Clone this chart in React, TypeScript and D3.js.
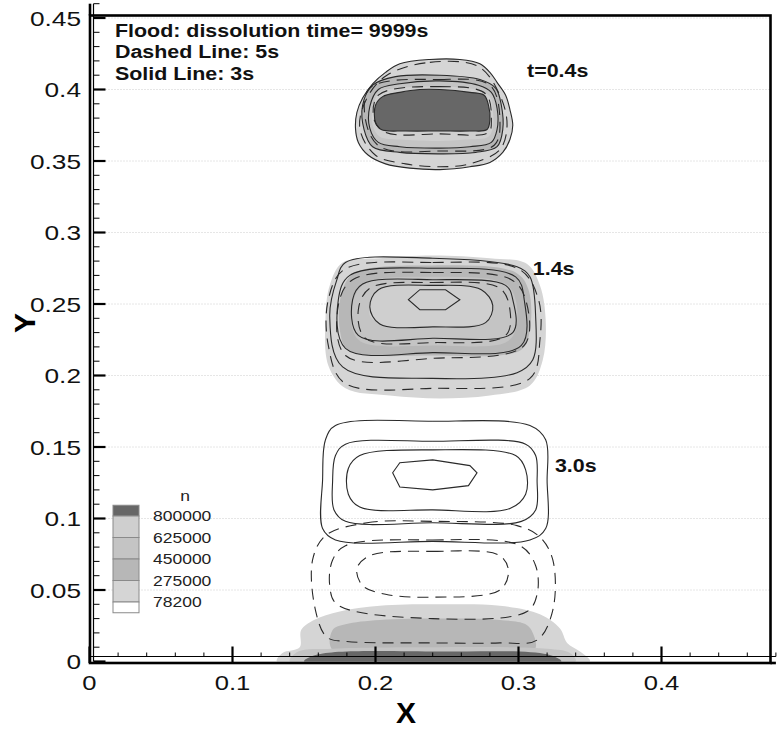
import React, { useEffect, useRef } from 'react';
import * as d3 from 'd3';

type Pt = [number, number];

// contour levels of n and the grey used for each band (below first level -> white)
const levelValues = [78200, 275000, 450000, 625000, 800000];
const levelColors = ['#ffffff', '#d5d5d5', '#b7b7b7', '#c4c4c4', '#cfcfcf', '#676767'];

const xTicks = [0, 0.1, 0.2, 0.3, 0.4];
const yTicks = [0, 0.05, 0.1, 0.15, 0.2, 0.25, 0.3, 0.35, 0.4, 0.45];
const noteLines = ['Flood: dissolution time= 9999s', 'Dashed Line: 5s', 'Solid Line: 3s'];
const timeLabels = ['t=0.4s', '1.4s', '3.0s'];
const timeLabelX = [0.306, 0.310, 0.3255];
const timeLabelY = [0.4087, 0.270, 0.1325];

// ---- flood (filled) contours, t = 0.4s
const t04Fill1: Pt[] = [[0.207, 0.412], [0.217, 0.418], [0.238, 0.421], [0.259, 0.421], [0.273, 0.418], [0.280, 0.412], [0.285, 0.405], [0.291, 0.396], [0.294, 0.386], [0.296, 0.375], [0.294, 0.365], [0.289, 0.356], [0.280, 0.349], [0.266, 0.346], [0.245, 0.344], [0.224, 0.345], [0.207, 0.348], [0.195, 0.354], [0.188, 0.363], [0.186, 0.373], [0.187, 0.384], [0.191, 0.394], [0.198, 0.404]];
const t04Fill2: Pt[] = [[0.198, 0.403], [0.214, 0.409], [0.245, 0.410], [0.273, 0.407], [0.284, 0.401], [0.288, 0.389], [0.289, 0.372], [0.285, 0.360], [0.270, 0.356], [0.245, 0.355], [0.217, 0.356], [0.198, 0.360], [0.192, 0.372], [0.191, 0.389]];
const t04Fill3: Pt[] = [[0.202, 0.400], [0.217, 0.404], [0.245, 0.406], [0.272, 0.403], [0.281, 0.398], [0.285, 0.387], [0.285, 0.372], [0.281, 0.363], [0.266, 0.360], [0.245, 0.359], [0.217, 0.360], [0.202, 0.363], [0.196, 0.373], [0.196, 0.388]];
const t04Fill4: Pt[] = [[0.203, 0.398], [0.217, 0.401], [0.245, 0.402], [0.270, 0.400], [0.280, 0.395], [0.282, 0.386], [0.282, 0.373], [0.279, 0.367], [0.263, 0.365], [0.245, 0.364], [0.217, 0.365], [0.203, 0.367], [0.198, 0.375], [0.198, 0.387]];
const t04Fill5: Pt[] = [[0.205, 0.395], [0.217, 0.398], [0.231, 0.400], [0.245, 0.400], [0.266, 0.398], [0.276, 0.396], [0.279, 0.389], [0.280, 0.379], [0.278, 0.372], [0.266, 0.371], [0.245, 0.371], [0.221, 0.371], [0.204, 0.372], [0.200, 0.377], [0.200, 0.389]];

// ---- flood contours, t = 1.4s
const t14Fill1: Pt[] = [[0.177, 0.279], [0.203, 0.282], [0.240, 0.284], [0.280, 0.282], [0.306, 0.278], [0.315, 0.263], [0.319, 0.239], [0.317, 0.211], [0.308, 0.193], [0.280, 0.186], [0.245, 0.184], [0.210, 0.186], [0.179, 0.191], [0.167, 0.207], [0.165, 0.239], [0.168, 0.263]];
const t14Fill2: Pt[] = [[0.186, 0.272], [0.240, 0.277], [0.298, 0.272], [0.307, 0.260], [0.308, 0.232], [0.302, 0.218], [0.240, 0.214], [0.181, 0.218], [0.175, 0.232], [0.177, 0.260]];
const t14Fill3: Pt[] = [[0.194, 0.265], [0.240, 0.269], [0.291, 0.264], [0.298, 0.253], [0.298, 0.232], [0.291, 0.223], [0.240, 0.221], [0.191, 0.223], [0.184, 0.232], [0.185, 0.254]];
const t14Fill4: Pt[] = [[0.203, 0.260], [0.240, 0.263], [0.274, 0.260], [0.282, 0.249], [0.280, 0.239], [0.266, 0.235], [0.240, 0.233], [0.207, 0.235], [0.196, 0.242], [0.198, 0.254]];

// ---- flood contours near the floor
const floorFill1: Pt[] = [[0.131, 0.000], [0.135, 0.006], [0.147, 0.010], [0.148, 0.022], [0.157, 0.029], [0.175, 0.035], [0.203, 0.039], [0.247, 0.040], [0.287, 0.039], [0.315, 0.033], [0.329, 0.023], [0.334, 0.013], [0.343, 0.007], [0.350, 0.000]];
const floorFill2: Pt[] = [[0.170, 0.008], [0.170, 0.022], [0.179, 0.026], [0.203, 0.029], [0.247, 0.030], [0.287, 0.029], [0.305, 0.026], [0.310, 0.020], [0.311, 0.008]];
const floorFill3: Pt[] = [[0.140, 0.000], [0.146, 0.007], [0.170, 0.009], [0.245, 0.010], [0.320, 0.009], [0.336, 0.006], [0.340, 0.000]];
const floorFill5: Pt[] = [[0.150, 0.000], [0.160, 0.005], [0.245, 0.007], [0.320, 0.005], [0.330, 0.000]];

// ---- solid lines (3s)
const t14Solid1: Pt[] = [[0.179, 0.279], [0.240, 0.282], [0.299, 0.276], [0.308, 0.269], [0.312, 0.241], [0.310, 0.211], [0.299, 0.202], [0.240, 0.198], [0.177, 0.206], [0.168, 0.241], [0.173, 0.267]];
const t14Solid2: Pt[] = [[0.182, 0.270], [0.240, 0.275], [0.298, 0.269], [0.304, 0.253], [0.302, 0.221], [0.240, 0.216], [0.179, 0.219], [0.174, 0.253]];
const t14Solid3: Pt[] = [[0.191, 0.264], [0.240, 0.267], [0.291, 0.263], [0.296, 0.253], [0.296, 0.230], [0.240, 0.226], [0.188, 0.228], [0.184, 0.253]];
const t14Solid4: Pt[] = [[0.202, 0.260], [0.240, 0.263], [0.274, 0.260], [0.282, 0.249], [0.277, 0.237], [0.240, 0.234], [0.203, 0.236], [0.196, 0.248]];
const t14Solid5: Pt[] = [[0.223, 0.253], [0.231, 0.260], [0.249, 0.260], [0.259, 0.253], [0.249, 0.246], [0.231, 0.246]];
const t30Solid1: Pt[] = [[0.172, 0.165], [0.240, 0.168], [0.308, 0.165], [0.319, 0.155], [0.320, 0.127], [0.319, 0.093], [0.308, 0.085], [0.240, 0.084], [0.172, 0.085], [0.163, 0.093], [0.163, 0.127], [0.165, 0.155]];
const t30Solid2: Pt[] = [[0.179, 0.152], [0.240, 0.154], [0.305, 0.152], [0.312, 0.144], [0.313, 0.126], [0.312, 0.106], [0.302, 0.098], [0.240, 0.097], [0.179, 0.098], [0.171, 0.106], [0.170, 0.126], [0.172, 0.144]];
const t30Solid3: Pt[] = [[0.189, 0.144], [0.240, 0.148], [0.298, 0.144], [0.305, 0.134], [0.305, 0.117], [0.294, 0.107], [0.240, 0.106], [0.189, 0.108], [0.181, 0.117], [0.181, 0.135]];
const t30Solid4: Pt[] = [[0.212, 0.132], [0.217, 0.139], [0.240, 0.141], [0.266, 0.137], [0.271, 0.132], [0.265, 0.123], [0.240, 0.120], [0.217, 0.122]];

// ---- dashed lines (5s)
const t04Dash1: Pt[] = [[0.208, 0.410], [0.238, 0.419], [0.272, 0.416], [0.287, 0.396], [0.292, 0.375], [0.287, 0.358], [0.266, 0.348], [0.245, 0.346], [0.221, 0.348], [0.200, 0.354], [0.189, 0.373], [0.194, 0.394]];
const t04Dash2: Pt[] = [[0.196, 0.401], [0.245, 0.407], [0.280, 0.403], [0.287, 0.379], [0.283, 0.361], [0.245, 0.357], [0.203, 0.360], [0.193, 0.379]];
const t04Dash3: Pt[] = [[0.202, 0.396], [0.245, 0.402], [0.277, 0.397], [0.281, 0.379], [0.279, 0.370], [0.245, 0.369], [0.207, 0.370], [0.199, 0.379]];
const t14Dash1: Pt[] = [[0.178, 0.274], [0.240, 0.279], [0.301, 0.274], [0.314, 0.253], [0.315, 0.225], [0.308, 0.198], [0.240, 0.191], [0.178, 0.195], [0.167, 0.221], [0.167, 0.253]];
const t14Dash2: Pt[] = [[0.184, 0.267], [0.240, 0.272], [0.295, 0.267], [0.305, 0.253], [0.304, 0.221], [0.240, 0.212], [0.179, 0.214], [0.174, 0.249]];
const t14Dash3: Pt[] = [[0.196, 0.261], [0.240, 0.265], [0.287, 0.261], [0.294, 0.246], [0.291, 0.228], [0.240, 0.223], [0.193, 0.226], [0.188, 0.246]];
const t30Dash1: Pt[] = [[0.165, 0.088], [0.194, 0.097], [0.240, 0.098], [0.299, 0.095], [0.315, 0.087], [0.324, 0.071], [0.324, 0.036], [0.313, 0.015], [0.287, 0.013], [0.240, 0.013], [0.180, 0.014], [0.166, 0.017], [0.158, 0.036], [0.156, 0.071]];
const t30Dash2: Pt[] = [[0.179, 0.081], [0.240, 0.085], [0.301, 0.081], [0.312, 0.067], [0.313, 0.047], [0.306, 0.035], [0.240, 0.030], [0.173, 0.040], [0.168, 0.053], [0.170, 0.071]];
const t30Dash3: Pt[] = [[0.196, 0.074], [0.240, 0.077], [0.287, 0.074], [0.293, 0.063], [0.287, 0.050], [0.240, 0.045], [0.207, 0.047], [0.191, 0.053], [0.187, 0.065]];

const fills: { level: number; pts: Pt[] }[] = [
  { level: 1, pts: t04Fill1 }, { level: 2, pts: t04Fill2 }, { level: 3, pts: t04Fill3 }, { level: 4, pts: t04Fill4 }, { level: 5, pts: t04Fill5 },
  { level: 1, pts: t14Fill1 }, { level: 2, pts: t14Fill2 }, { level: 3, pts: t14Fill3 }, { level: 4, pts: t14Fill4 },
  { level: 1, pts: floorFill1 }, { level: 2, pts: floorFill2 }, { level: 3, pts: floorFill3 }, { level: 5, pts: floorFill5 },
];
const solidLines: Pt[][] = [t04Fill1, t04Fill2, t04Fill3, t04Fill5, t14Solid1, t14Solid2, t14Solid3, t14Solid4, t30Solid1, t30Solid2, t30Solid3];
const solidPolys: Pt[][] = [t14Solid5, t30Solid4];
const dashedLines: Pt[][] = [t04Dash1, t04Dash2, t04Dash3, t14Dash1, t14Dash2, t14Dash3, t30Dash1, t30Dash2, t30Dash3];

const FONT = '"Liberation Sans", Arial, Helvetica, sans-serif';

const App = () => {
  const ref = useRef<SVGSVGElement>(null);

  useEffect(() => {
    document.body.style.margin = '0';
    const svg = d3.select(ref.current);
    svg.selectAll('*').remove();

    const x = d3.scaleLinear().domain([0, 0.48]).range([89.5, 775.9]);
    const y = d3.scaleLinear().domain([0, 0.46]).range([661.5, 3.7]);
    const frame = { left: 90, right: 770.5, top: 15.5, bottom: 663 };
    const innerX = 93.5; // inner y-axis line
    const innerY = 656.5; // inner x-axis line

    // labels in the picture are drawn a little wide
    const stretched = (sel: any, px: number, py: number, k: number) =>
      sel.attr('transform', `translate(${px},${py}) scale(${k},1)`);

    svg.append('defs').append('clipPath').attr('id', 'plotClip')
      .append('rect')
      .attr('x', frame.left).attr('y', frame.top)
      .attr('width', frame.right - frame.left).attr('height', y(0) - frame.top);

    // faint dotted grid
    svg.append('g').selectAll('line')
      .data(yTicks.filter(d => d > 0))
      .enter().append('line')
      .attr('x1', innerX).attr('x2', frame.right)
      .attr('y1', d => y(d)).attr('y2', d => y(d))
      .attr('stroke', '#cccccc').attr('stroke-width', 1)
      .attr('stroke-dasharray', '1,2');

    const plot = svg.append('g').attr('clip-path', 'url(#plotClip)');
    const smooth = d3.line<Pt>().x(d => x(d[0])).y(d => y(d[1])).curve(d3.curveCatmullRomClosed.alpha(0.5));
    const poly = d3.line<Pt>().x(d => x(d[0])).y(d => y(d[1])).curve(d3.curveLinearClosed);

    plot.selectAll('.fill')
      .data(fills)
      .enter().append('path')
      .attr('class', 'fill')
      .attr('d', d => smooth(d.pts))
      .attr('fill', d => levelColors[d.level])
      .attr('stroke', 'none');

    plot.selectAll('.solid')
      .data(solidLines)
      .enter().append('path')
      .attr('class', 'solid')
      .attr('d', d => smooth(d))
      .attr('fill', 'none').attr('stroke', '#2a2a2a').attr('stroke-width', 1.1);

    plot.selectAll('.solidPoly')
      .data(solidPolys)
      .enter().append('path')
      .attr('class', 'solidPoly')
      .attr('d', d => poly(d))
      .attr('fill', 'none').attr('stroke', '#2a2a2a').attr('stroke-width', 1.1);

    plot.selectAll('.dashed')
      .data(dashedLines)
      .enter().append('path')
      .attr('class', 'dashed')
      .attr('d', d => smooth(d))
      .attr('fill', 'none').attr('stroke', '#2a2a2a').attr('stroke-width', 1.1)
      .attr('stroke-dasharray', '11,7');

    // frame and axes
    const axes = svg.append('g').attr('stroke', '#000').attr('fill', 'none');
    axes.append('rect')
      .attr('x', frame.left).attr('y', frame.top)
      .attr('width', frame.right - frame.left).attr('height', frame.bottom - frame.top)
      .attr('stroke-width', 2.6);
    axes.append('line').attr('x1', frame.left).attr('x2', frame.left)
      .attr('y1', y(0.46)).attr('y2', frame.top).attr('stroke-width', 2.6);
    axes.append('line').attr('x1', innerX).attr('x2', innerX)
      .attr('y1', y(0.46)).attr('y2', y(0)).attr('stroke-width', 1.2);
    axes.append('line').attr('x1', frame.right).attr('x2', x(0.48))
      .attr('y1', frame.bottom).attr('y2', frame.bottom).attr('stroke-width', 2.6);
    axes.append('line').attr('x1', frame.left).attr('x2', x(0.48))
      .attr('y1', innerY).attr('y2', innerY).attr('stroke-width', 1.2);

    const yMinor = d3.range(0, 47).map(i => i / 100);
    axes.selectAll('.ytick')
      .data(yMinor)
      .enter().append('line')
      .attr('x1', innerX)
      .attr('x2', (d, i) => innerX + (i % 5 === 0 ? 12 : 6))
      .attr('y1', d => y(d)).attr('y2', d => y(d))
      .attr('stroke-width', (d, i) => (i % 5 === 0 ? 2.2 : 1));

    const xMinor = d3.range(0, 25).map(i => i / 50);
    axes.selectAll('.xtick')
      .data(xMinor)
      .enter().append('line')
      .attr('x1', d => x(d)).attr('x2', d => x(d))
      .attr('y1', (d, i) => (i % 5 === 0 ? innerY - 10 : innerY - 4))
      .attr('y2', (d, i) => (i % 5 === 0 ? frame.bottom : innerY))
      .attr('stroke-width', (d, i) => (i % 5 === 0 ? 2.2 : 1));

    // tick labels
    const tickText = svg.append('g').attr('font-family', FONT).attr('font-size', 21).attr('fill', '#111');
    yTicks.forEach(v => {
      stretched(tickText.append('text'), 81, y(v) + 7.5, 1.25).attr('text-anchor', 'end').text(String(v));
    });
    xTicks.forEach(v => {
      stretched(tickText.append('text'), x(v), 690, 1.22).attr('text-anchor', 'middle').text(String(v));
    });

    // axis titles
    svg.append('text').attr('font-family', FONT).attr('font-weight', 'bold').attr('font-size', 30)
      .attr('text-anchor', 'middle').attr('x', 406).attr('y', 723).text('X');
    svg.append('text').attr('font-family', FONT).attr('font-weight', 'bold').attr('font-size', 30)
      .attr('text-anchor', 'middle').attr('transform', 'translate(35,323) rotate(-90)').text('Y');

    // notes
    const notes = svg.append('g').attr('font-family', FONT).attr('font-weight', 'bold').attr('font-size', 18).attr('fill', '#111');
    noteLines.forEach((t, i) => {
      stretched(notes.append('text'), 115, 36.5 + i * 21.8, 1.19).text(t);
    });
    timeLabels.forEach((t, i) => {
      stretched(notes.append('text'), x(timeLabelX[i]), y(timeLabelY[i]), 1.19).text(t);
    });

    // legend
    const lg = svg.append('g').attr('font-family', FONT).attr('font-size', 14).attr('fill', '#222');
    const bx = 113, bw = 26, rowH = 21.5, firstEdge = 516;
    const edges = levelValues.map((v, i) => firstEdge + (levelValues.length - 1 - i) * rowH);
    // boxes from top (highest band) to bottom (white)
    const boxes = d3.range(levelColors.length).reverse().map(k => {
      const top = k === levelColors.length - 1 ? firstEdge - rowH / 2 : edges[k];
      const bottom = k === 0 ? edges[0] + rowH / 2 : edges[k - 1];
      return { k, top, bottom };
    });
    lg.selectAll('rect')
      .data(boxes)
      .enter().append('rect')
      .attr('x', bx).attr('y', d => d.top)
      .attr('width', bw).attr('height', d => d.bottom - d.top)
      .attr('fill', d => levelColors[d.k])
      .attr('stroke', '#8a8a8a').attr('stroke-width', 1);
    levelValues.forEach((v, i) => {
      stretched(lg.append('text'), 153, edges[i] + 5, 1.25).text(String(v));
    });
    stretched(lg.append('text'), 185, 501, 1.25).attr('text-anchor', 'middle').text('n');
  }, []);

  return <svg ref={ref} width={778} height={729} style={{ display: 'block', background: '#fff' }} />;
};

export default App;
